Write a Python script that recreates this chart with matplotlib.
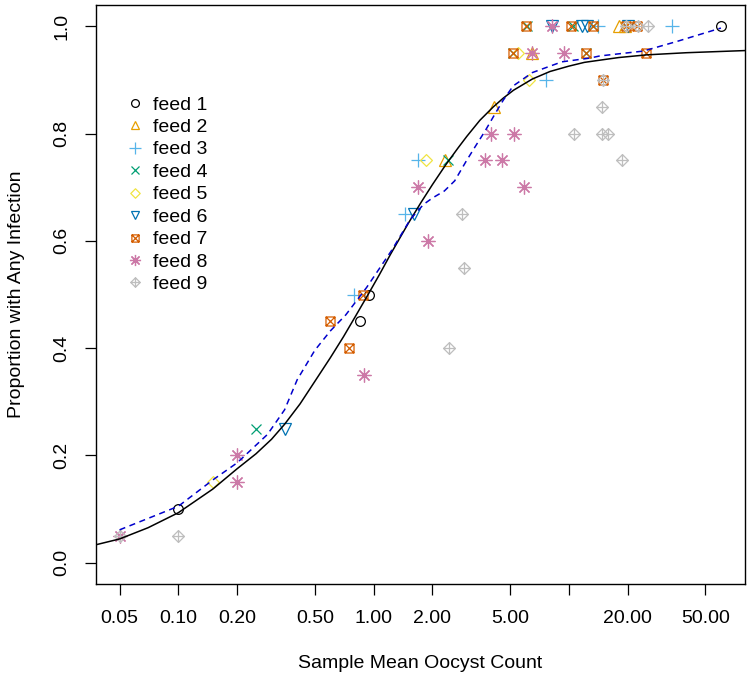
import numpy as np
import matplotlib
matplotlib.use("Agg")
import matplotlib.pyplot as plt
from matplotlib.path import Path

plt.rcParams["font.family"] = ["Liberation Sans", "DejaVu Sans"]

# ── data ─────────────────────────────────────────────────────────────────────
feed1_x = [0.1, 0.85, 0.95, 60]
feed1_y = [0.1, 0.45, 0.5, 1.0]
feed2_x = [2.33, 4.14, 6.5, 18.0, 19.3]
feed2_y = [0.75, 0.85, 0.95, 1.0, 1.0]
feed3_x = [0.79, 1.44, 1.69, 7.64, 14.1, 33.7]
feed3_y = [0.5, 0.65, 0.75, 0.9, 1.0, 1.0]
feed4_x = [0.25, 2.4, 5.18, 6.1, 10.5, 12.2, 13.3]
feed4_y = [0.25, 0.75, 0.95, 1.0, 1.0, 0.95, 1.0]
feed5_x = [0.15, 1.86, 5.5, 6.26]
feed5_y = [0.15, 0.75, 0.95, 0.9]
feed6_x = [0.35, 1.6, 8.2, 11.6, 12.4, 20.1]
feed6_y = [0.25, 0.65, 1.0, 1.0, 1.0, 1.0]
feed7_x = [0.6, 0.75, 0.885, 5.18, 6.04, 10.3, 12.2, 13.3, 15.0, 19.6, 22.3, 24.8]
feed7_y = [0.45, 0.4, 0.5, 0.95, 1.0, 1.0, 0.95, 1.0, 0.9, 1.0, 1.0, 0.95]
feed8_x = [0.05, 0.2, 0.2, 0.895, 1.69, 1.9, 3.72, 4.0, 4.55, 5.23, 5.9, 6.48, 8.2, 9.45]
feed8_y = [0.05, 0.2, 0.15, 0.35, 0.7, 0.6, 0.75, 0.8, 0.75, 0.8, 0.7, 0.95, 1.0, 0.95]
feed9_x = [0.05, 0.1, 2.44, 2.91, 2.84, 10.6, 14.8, 15.8, 14.8, 18.7, 15.0, 19.6, 22.6, 25.4]
feed9_y = [0.05, 0.05, 0.4, 0.55, 0.65, 0.8, 0.8, 0.8, 0.85, 0.75, 0.9, 1.0, 1.0, 1.0]

# fitted curve (solid) and smoother (dashed)
fit_x = [0.03765, 0.05, 0.07, 0.1, 0.15, 0.2, 0.25, 0.3, 0.35, 0.42, 0.5, 0.6,
         0.7, 0.8, 0.93, 1.07, 1.22, 1.5, 1.75, 2.0, 2.33, 2.7, 3.0, 3.5, 4.1,
         4.6, 5.2, 6.5, 8, 10, 12, 15, 18, 25, 40, 79.7]
fit_y = [0.033, 0.044, 0.065, 0.093, 0.137, 0.175, 0.203, 0.230, 0.258, 0.296,
         0.338, 0.382, 0.421, 0.457, 0.498, 0.537, 0.575, 0.632, 0.672, 0.705,
         0.741, 0.773, 0.795, 0.825, 0.850, 0.866, 0.881, 0.902, 0.916, 0.926,
         0.933, 0.938, 0.942, 0.947, 0.951, 0.955]
smooth_x = [0.05, 0.1, 0.15, 0.2, 0.286, 0.35, 0.406, 0.5, 0.6, 0.72, 0.92, 1.24,
            1.54, 1.8, 2.0, 2.3, 2.6, 2.97, 3.3, 3.72, 4.2, 4.6, 5.18, 6.5, 9.2,
            12.8, 14.4, 24, 35.7, 60]
smooth_y = [0.061, 0.105, 0.154, 0.186, 0.239, 0.285, 0.341, 0.396, 0.432, 0.462,
            0.513, 0.583, 0.640, 0.668, 0.680, 0.693, 0.712, 0.748, 0.775, 0.805,
            0.838, 0.862, 0.889, 0.914, 0.934, 0.941, 0.945, 0.954, 0.972, 0.997]

x_ticks = [0.05, 0.1, 0.2, 0.5, 1, 2, 5, 10, 20, 50]
x_tick_labels = ["0.05", "0.10", "0.20", "0.50", "1.00", "2.00", "5.00", "", "20.00", "50.00"]
y_ticks = [0.0, 0.2, 0.4, 0.6, 0.8, 1.0]

# ── R-like markers ───────────────────────────────────────────────────────────
box_x = Path([(-1, -1), (1, -1), (1, 1), (-1, 1), (-1, -1),
              (-1, -1), (1, 1), (-1, 1), (1, -1)],
             [Path.MOVETO, Path.LINETO, Path.LINETO, Path.LINETO, Path.CLOSEPOLY,
              Path.MOVETO, Path.LINETO, Path.MOVETO, Path.LINETO])
diamond = Path([(0, -1), (1, 0), (0, 1), (-1, 0), (0, -1)],
               [Path.MOVETO, Path.LINETO, Path.LINETO, Path.LINETO, Path.CLOSEPOLY])
diamond_plus = Path([(0, -1), (1, 0), (0, 1), (-1, 0), (0, -1),
                     (-1, 0), (1, 0), (0, -1), (0, 1)],
                    [Path.MOVETO, Path.LINETO, Path.LINETO, Path.LINETO, Path.CLOSEPOLY,
                     Path.MOVETO, Path.LINETO, Path.MOVETO, Path.LINETO])

feeds = [
    ("feed 1", feed1_x, feed1_y, "o", "black", 7),
    ("feed 2", feed2_x, feed2_y, "^", "#E69F00", 8),
    ("feed 3", feed3_x, feed3_y, "+", "#56B4E9", 10),
    ("feed 4", feed4_x, feed4_y, "x", "#009E73", 7),
    ("feed 5", feed5_x, feed5_y, diamond, "#F0E442", 8.5),
    ("feed 6", feed6_x, feed6_y, "v", "#0072B2", 8),
    ("feed 7", feed7_x, feed7_y, box_x, "#D55E00", 6.5),
    ("feed 8", feed8_x, feed8_y, (8, 2, 0), "#CC79A7", 10),
    ("feed 9", feed9_x, feed9_y, diamond_plus, "#BEBEBE", 8.5),
]

fig = plt.figure(figsize=(7.51, 6.84), dpi=100)
ax = fig.add_axes([95.5 / 751, 1 - 584 / 684, 649.5 / 751, 579 / 684])

for label, xs, ys, mk, col, ms in feeds:
    ax.plot(xs, ys, linestyle="none", marker=mk, markersize=ms,
            markerfacecolor="none", markeredgecolor=col, markeredgewidth=0.9,
            label=label)

ax.plot(fit_x, fit_y, color="black", lw=1.1)
ax.plot(smooth_x, smooth_y, color="#0000CC", lw=1.1, ls=(0, (4, 3)))

ax.set_xscale("log")
ax.set_xlim(0.03765, 79.7)
ax.set_ylim(-0.04, 1.04)
ax.set_xticks(x_ticks)
ax.set_xticklabels(x_tick_labels)
ax.minorticks_off()
ax.set_yticks(y_ticks)
ax.set_yticklabels([f"{v:.1f}" for v in y_ticks], rotation=90, va="center")
ax.tick_params(length=8, width=0.9, labelsize=14, direction="out")
ax.tick_params(axis="x", pad=11)
ax.tick_params(axis="y", pad=10)
for s in ax.spines.values():
    s.set_linewidth(1.0)

ax.set_xlabel("Sample Mean Oocyst Count", fontsize=14)
ax.xaxis.set_label_coords(0.5, -0.122)
ax.set_ylabel("Proportion with Any Infection", fontsize=14)
ax.yaxis.label.set_va("center")
ax.yaxis.set_label_coords(-0.121, 0.5)

ax.legend(loc="upper left", bbox_to_anchor=(0.046, 0.843), frameon=False,
          fontsize=14, handlelength=1.0, handletextpad=0.4, markerscale=0.8,
          labelspacing=0.25, borderpad=0, borderaxespad=0)

fig.savefig("out.png", dpi=100)
